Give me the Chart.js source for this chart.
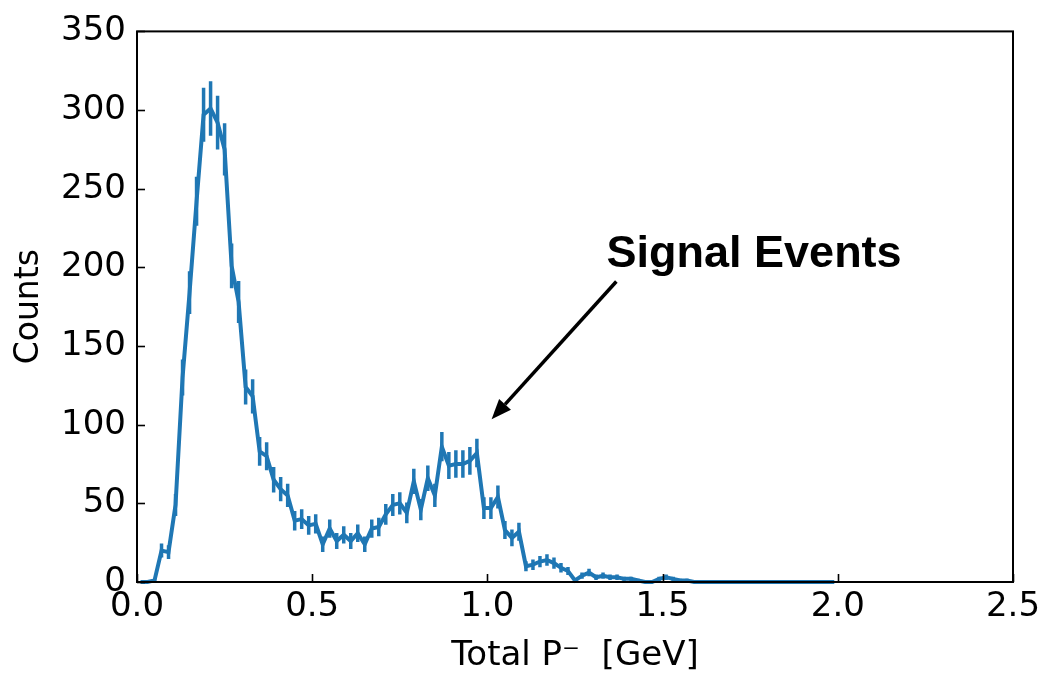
<!DOCTYPE html>
<html>
<head>
<meta charset="utf-8">
<script src="https://cdn.jsdelivr.net/npm/chart.js@4.4.1/dist/chart.umd.min.js"></script>
<style>
  html, body { margin: 0; padding: 0; background: #ffffff; }
  #wrap { width: 1049px; height: 679px; position: relative; }
</style>
</head>
<body>
<div id="wrap"><canvas id="c" width="1049" height="679"></canvas></div>
<script>
// Bin centres (GeV), 0.02 GeV bins from 0 to 2.0
const binCenters = [
  0.01,0.03,0.05,0.07,0.09,0.11,0.13,0.15,0.17,0.19,
  0.21,0.23,0.25,0.27,0.29,0.31,0.33,0.35,0.37,0.39,
  0.41,0.43,0.45,0.47,0.49,0.51,0.53,0.55,0.57,0.59,
  0.61,0.63,0.65,0.67,0.69,0.71,0.73,0.75,0.77,0.79,
  0.81,0.83,0.85,0.87,0.89,0.91,0.93,0.95,0.97,0.99,
  1.01,1.03,1.05,1.07,1.09,1.11,1.13,1.15,1.17,1.19,
  1.21,1.23,1.25,1.27,1.29,1.31,1.33,1.35,1.37,1.39,
  1.41,1.43,1.45,1.47,1.49,1.51,1.53,1.55,1.57,1.59,
  1.61,1.63,1.65,1.67,1.69,1.71,1.73,1.75,1.77,1.79,
  1.81,1.83,1.85,1.87,1.89,1.91,1.93,1.95,1.97,1.99
];
// Counts per bin
const counts = [
  0,0,1,20,19,49,130,184,242,297,
  301,292,275,201,178,124,118,83,80,65,
  59,55,39,40,36,37,24,34,26,30,
  26,31,24,34,35,43,49,50,44,64,
  46,66,55,86,74,75,75,77,82,47,
  47,54,33,28,32,10,11,13,14,12,
  9,7,1,4,6,3,4,3,3,2,
  2,1,0,0,2,3,2,1,1,0,
  0,0,0,0,0,0,0,0,0,0,
  0,0,0,0,0,0,0,0,0,0
];
// Error bar half-heights per bin
const errors = [
  0,0,1,4.5,4.4,7,11.4,13.6,15.6,17.2,
  17.3,17.1,16.6,14.2,13.3,11.1,10.9,9.1,8.9,8.1,
  7.7,7.4,6.2,6.3,6,6.1,4.9,5.8,5.1,5.5,
  5.1,5.6,4.9,5.8,5.9,6.6,7,7.1,6.6,8,
  6.8,8.1,7.4,9.3,8.6,8.7,8.7,8.8,9.1,6.9,
  6.9,7.3,5.7,5.3,5.7,3.2,3.3,3.6,3.7,3.5,
  3,2.6,1,2,2.4,1.7,2,1.7,1.7,1.4,
  1.4,1,0,0,1.4,1.7,1.4,1,1,0,
  0,0,0,0,0,0,0,0,0,0,
  0,0,0,0,0,0,0,0,0,0
];
const xTicks = [0.0, 0.5, 1.0, 1.5, 2.0, 2.5];
const yTicks = [0, 50, 100, 150, 200, 250, 300, 350];
const annotationText = "Signal Events";
const annotationTextPos = [1.34, 200.5];
const arrowTail = [1.368, 191];
const arrowTip = [1.012, 103.5];

const BLUE = '#1f77b4';
const FONT = "'DejaVu Sans', sans-serif";

const errorBarPlugin = {
  id: 'errorBars',
  afterDatasetsDraw(chart) {
    const ctx = chart.ctx, xs = chart.scales.x, ys = chart.scales.y;
    ctx.save();
    ctx.beginPath();
    ctx.rect(chart.chartArea.left, chart.chartArea.top, chart.chartArea.right - chart.chartArea.left, chart.chartArea.bottom - chart.chartArea.top);
    ctx.clip();
    ctx.strokeStyle = BLUE;
    ctx.lineWidth = 3.5;
    ctx.lineCap = 'butt';
    for (let i = 0; i < binCenters.length; i++) {
      const e = errors[i];
      if (!e) continue;
      const px = xs.getPixelForValue(binCenters[i]);
      ctx.beginPath();
      ctx.moveTo(px, ys.getPixelForValue(counts[i] - e));
      ctx.lineTo(px, ys.getPixelForValue(counts[i] + e));
      ctx.stroke();
    }
    ctx.restore();
  }
};

const framePlugin = {
  id: 'frame',
  afterDraw(chart) {
    const ctx = chart.ctx, a = chart.chartArea, xs = chart.scales.x, ys = chart.scales.y;
    ctx.save();
    ctx.strokeStyle = '#000';
    ctx.lineWidth = 2;
    ctx.strokeRect(a.left, a.top, a.right - a.left, a.bottom - a.top);
    ctx.lineWidth = 1.6;
    xTicks.forEach(v => {
      const px = Math.round(xs.getPixelForValue(v)) + 0.5;
      ctx.beginPath(); ctx.moveTo(px, a.bottom); ctx.lineTo(px, a.bottom - 8); ctx.stroke();
    });
    yTicks.forEach(v => {
      const py = Math.round(ys.getPixelForValue(v)) + 0.5;
      ctx.beginPath(); ctx.moveTo(a.left, py); ctx.lineTo(a.left + 8, py); ctx.stroke();
    });
    // annotation
    const tx = xs.getPixelForValue(arrowTail[0]), ty = ys.getPixelForValue(arrowTail[1]);
    const hx = xs.getPixelForValue(arrowTip[0]), hy = ys.getPixelForValue(arrowTip[1]);
    const ang = Math.atan2(hy - ty, hx - tx);
    const headLen = 20, headW = 8;
    const bx = hx - headLen * Math.cos(ang), by = hy - headLen * Math.sin(ang);
    ctx.strokeStyle = '#000';
    ctx.lineWidth = 3.5;
    ctx.beginPath(); ctx.moveTo(tx, ty); ctx.lineTo(bx, by); ctx.stroke();
    ctx.fillStyle = '#000';
    ctx.beginPath();
    ctx.moveTo(hx, hy);
    ctx.lineTo(bx + headW * Math.sin(ang), by - headW * Math.cos(ang));
    ctx.lineTo(bx - headW * Math.sin(ang), by + headW * Math.cos(ang));
    ctx.closePath(); ctx.fill();
    ctx.font = "bold 45px 'Liberation Sans', Arial, sans-serif";
    ctx.textAlign = 'left';
    ctx.textBaseline = 'alphabetic';
    ctx.fillText(annotationText, xs.getPixelForValue(annotationTextPos[0]), ys.getPixelForValue(annotationTextPos[1]));
    ctx.restore();
  }
};

new Chart(document.getElementById('c'), {
  type: 'line',
  data: {
    datasets: [{
      data: binCenters.map((x, i) => ({ x: x, y: counts[i] })),
      borderColor: BLUE,
      borderWidth: 4,
      pointRadius: 0,
      tension: 0,
      fill: false,
      clip: 2
    }]
  },
  options: {
    responsive: false,
    animation: false,
    devicePixelRatio: 1,
    layout: { padding: { top: 26, right: 36, left: 0, bottom: 0 } },
    plugins: { legend: { display: false }, tooltip: { enabled: false } },
    scales: {
      x: {
        type: 'linear', min: 0, max: 2.5,
        afterBuildTicks(s) { s.ticks = xTicks.map(v => ({ value: v })); },
        afterFit(s) { s.height = 97; },
        grid: { display: false, drawTicks: false },
        border: { display: false },
        ticks: {
          color: '#000', padding: 5,
          font: { family: FONT, size: 34 },
          callback: v => Number(v).toFixed(1),
          maxRotation: 0, autoSkip: false
        },
        title: {
          display: true, text: 'Total P\u207B  [GeV]', color: '#000',
          font: { family: FONT, size: 34 }, padding: { top: 0, bottom: 2 }
        }
      },
      y: {
        type: 'linear', min: 0, max: 350,
        afterBuildTicks(s) { s.ticks = yTicks.map(v => ({ value: v })); },
        afterFit(s) { s.width = 137; },
        grid: { display: false, drawTicks: false },
        border: { display: false },
        ticks: {
          color: '#000', padding: 11,
          font: { family: FONT, size: 34 },
          autoSkip: false
        },
        title: {
          display: true, text: 'Counts', color: '#000',
          font: { family: FONT, size: 33 }, padding: { top: 10, bottom: 0 }
        }
      }
    }
  },
  plugins: [errorBarPlugin, framePlugin]
});
</script>
</body>
</html>
